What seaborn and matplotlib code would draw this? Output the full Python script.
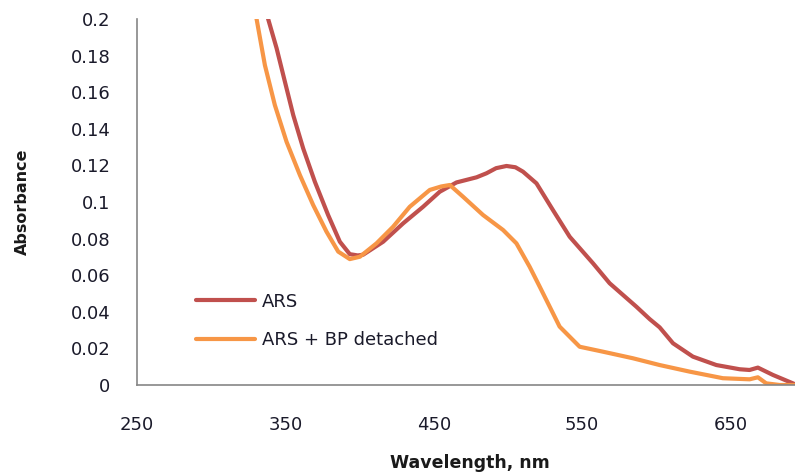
import matplotlib
matplotlib.use("Agg")
import matplotlib.pyplot as plt
import seaborn as sns
import pandas as pd

# ARS spectrum
ars_wl = [335.5, 338.4, 344.1, 349.7, 355.3, 362.0, 369.9, 378.8, 386.7, 393.4, 398.8,
          402.4, 415.9, 429.3, 442.8, 454.0, 465.3, 478.8, 485.5, 492.0, 499.0,
          505.0, 510.1, 519.2, 530.3, 541.6, 557.3, 568.5, 586.5, 595.5, 602.2,
          611.2, 624.6, 640.4, 656.1, 662.8, 668.4, 678.5, 692.0, 700.0]
ars_abs = [0.210, 0.200, 0.184, 0.1657, 0.1475, 0.1293, 0.1110, 0.0929, 0.0783, 0.0715, 0.0708,
           0.0712, 0.0783, 0.0883, 0.0974, 0.1056, 0.1107, 0.1135, 0.1157, 0.1185, 0.1197,
           0.1190, 0.1166, 0.1102, 0.0956, 0.0810, 0.0665, 0.0556, 0.0428, 0.0360, 0.0315,
           0.0228, 0.0155, 0.0109, 0.0086, 0.0082, 0.0095, 0.0055, 0.0009, -0.002]

# ARS + BP detached spectrum
bp_wl = [326.0, 330.6, 336.2, 342.9, 350.8, 359.8, 368.7, 377.7, 385.6, 393.4, 400.2,
         411.4, 422.6, 433.8, 447.3, 455.0, 460.8, 469.7, 483.2, 496.7, 505.7,
         514.6, 521.4, 534.8, 548.3, 564.0, 584.2, 602.2, 622.4, 644.8, 662.8,
         668.4, 674.0, 683.0, 700.0]
bp_abs = [0.215, 0.200, 0.1748, 0.153, 0.1329, 0.1147, 0.0984, 0.0838, 0.0729, 0.0688, 0.0701,
          0.0774, 0.0865, 0.0974, 0.1066, 0.1085, 0.1093, 0.1029, 0.0929, 0.0847, 0.0774,
          0.0646, 0.0537, 0.0319, 0.0209, 0.0182, 0.0146, 0.0109, 0.0073, 0.0037, 0.0031,
          0.0042, 0.0009, 0.0, 0.0]

series_names = ["ARS", "ARS + BP detached"]
x_ticks = [250, 350, 450, 550, 650]
y_ticks = [0, 0.02, 0.04, 0.06, 0.08, 0.1, 0.12, 0.14, 0.16, 0.18, 0.2]
y_tick_labels = ["0", "0.02", "0.04", "0.06", "0.08", "0.1", "0.12", "0.14", "0.16", "0.18", "0.2"]

sns.set_style("white")
plt.rcParams["font.family"] = ["DejaVu Sans"]

fig = plt.figure(figsize=(7.95, 4.74), dpi=100)
ax = fig.add_axes([0.1723, 0.1878, 0.840, 0.772])

df1 = pd.DataFrame({"wl": ars_wl, "abs": ars_abs})
df2 = pd.DataFrame({"wl": bp_wl, "abs": bp_abs})
sns.lineplot(data=df1, x="wl", y="abs", ax=ax, color="#C0504D", lw=3.0,
             label=series_names[0], sort=False, solid_joinstyle="round", solid_capstyle="round")
sns.lineplot(data=df2, x="wl", y="abs", ax=ax, color="#F79646", lw=3.0,
             label=series_names[1], sort=False, solid_joinstyle="round", solid_capstyle="round")

ax.set_xlim(250, 700)
ax.set_ylim(0, 0.2)
ax.set_xticks(x_ticks)
ax.set_xticklabels([str(t) for t in x_ticks])
ax.set_yticks(y_ticks)
ax.set_yticklabels(y_tick_labels)

for s in ["top", "right"]:
    ax.spines[s].set_visible(False)
for s in ["left", "bottom"]:
    ax.spines[s].set_color("#868686")
    ax.spines[s].set_linewidth(1.2)

ax.tick_params(axis="both", which="major", direction="out", length=7, width=1.2,
               color="#868686", labelsize=13, labelcolor="#1a1a2a")
ax.tick_params(axis="y", pad=12)
ax.tick_params(axis="x", pad=15)
ax.grid(False)

ax.set_xlabel("Wavelength, nm", fontsize=12.5, fontweight="bold", color="#1a1a1a")
ax.xaxis.set_label_coords(0.499, -0.213)
ax.xaxis.label.set_va("center")
ax.set_ylabel("Absorbance", fontsize=11.5, fontweight="bold", color="#1a1a1a",
              family=["Liberation Sans Narrow", "DejaVu Sans"])
ax.yaxis.set_label_coords(-0.172, 0.5)
ax.yaxis.label.set_va("center")

ax.legend(loc="center left", bbox_to_anchor=(0.088, 0.175), frameon=False,
          fontsize=13, handlelength=3.3, handletextpad=0.35, labelspacing=1.15,
          borderpad=0, borderaxespad=0)
for t in ax.get_legend().get_texts():
    t.set_color("#1a1a2a")

fig.savefig("out.png", dpi=100)
